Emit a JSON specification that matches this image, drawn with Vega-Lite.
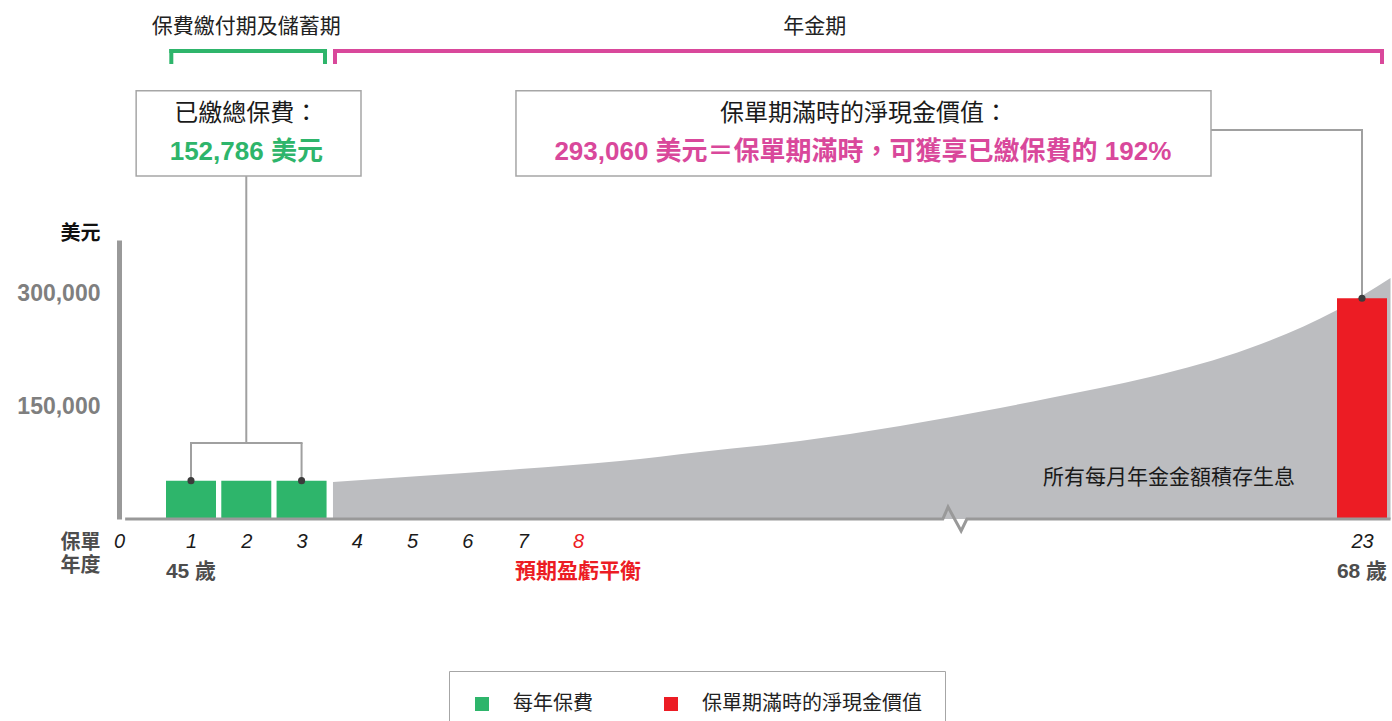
{
  "$schema": "https://vega.github.io/schema/vega-lite/v6.json",
  "width": 1273,
  "height": 279,
  "autosize": {"type": "none"},
  "padding": {"left": 119, "top": 240, "right": 0, "bottom": 202},
  "background": "white",
  "config": {
    "view": {"stroke": null},
    "font": "Liberation Sans, Noto Sans CJK TC",
    "axisX": {"labelFlush": false, "labelOverlap": false},
    "axisY": {"labelOverlap": false}
  },
  "datasets": {
    "bars": [
      {"year": 1, "value": 50929, "type": "每年保費"},
      {"year": 2, "value": 50929, "type": "每年保費"},
      {"year": 3, "value": 50928, "type": "每年保費"},
      {"year": 23, "value": 293060, "type": "保單期滿時的淨現金價值"}
    ],
    "curve": [
      {"year": 3.568, "value": 49115},
      {"year": 5.142, "value": 57080},
      {"year": 6.951, "value": 66372},
      {"year": 8.804, "value": 76991},
      {"year": 10.334, "value": 88938},
      {"year": 12.247, "value": 103540},
      {"year": 14.161, "value": 123451},
      {"year": 16.074, "value": 147345},
      {"year": 17.031, "value": 160619},
      {"year": 17.987, "value": 173893},
      {"year": 18.944, "value": 188495},
      {"year": 20.857, "value": 226991},
      {"year": 22.522, "value": 277433},
      {"year": 23.6, "value": 320000}
    ],
    "baseline": [
      {"year": 0, "value": 0},
      {"year": 14.98, "value": 0},
      {"year": 15.08, "value": 15900},
      {"year": 15.33, "value": -15900},
      {"year": 15.44, "value": 0},
      {"year": 23.6, "value": 0}
    ]
  },
  "layer": [
    {
      "data": {"name": "curve"},
      "mark": {"type": "area", "color": "#bcbdc0", "interpolate": "monotone"},
      "encoding": {
        "x": {
          "field": "year", "type": "quantitative",
          "scale": {"type": "linear", "domain": [0, 1, 8, 23, 24], "range": [0, 72, 459, 1243, 1295], "nice": false, "zero": false},
          "axis": {
            "values": [0, 1, 2, 3, 4, 5, 6, 7, 8, 23],
            "labelExpr": "format(datum.value, 'd')",
            "title": ["保單", "年度"], "titleAngle": 0, "titleX": -19, "titleY": 13,
            "titleAlign": "right", "titleBaseline": "top", "titleFontSize": 20, "titleFontWeight": "bold",
            "titleColor": "#4d4d4d", "titleFont": "Noto Sans CJK TC", "titleLineHeight": 23,
            "labelFont": "Liberation Sans", "labelFontSize": 20, "labelFontStyle": "italic",
            "labelColor": {"condition": {"test": "datum.value == 8", "value": "#ec1c24"}, "value": "#1a1a1a"},
            "labelOffset": {"condition": {"test": "datum.value == 0", "value": -6}, "value": 0},
            "labelPadding": 12, "labelFlush": false, "labelOverlap": false, "labelAlign": "center",
            "domain": false, "ticks": false, "grid": false
          }
        },
        "y": {
          "field": "value", "type": "quantitative",
          "scale": {"domain": [0, 370354], "nice": false, "zero": false},
          "axis": {
            "values": [150000, 300000],
            "labelExpr": "format(datum.value, ',')",
            "title": "美元", "titleAngle": 0, "titleX": -19, "titleY": -7, "titleAlign": "right",
            "titleBaseline": "middle", "titleFontSize": 20, "titleFontWeight": "bold", "titleColor": "#111111",
            "titleFont": "Noto Sans CJK TC",
            "labelFont": "Liberation Sans", "labelFontSize": 23, "labelFontWeight": "bold", "labelColor": "#7f7f7f",
            "labelPadding": 19, "ticks": false, "tickSize": 0,
            "domainColor": "#999999", "domainWidth": 5, "grid": false
          }
        },
        "y2": {"datum": 0}
      }
    },
    {
      "data": {"name": "bars"},
      "mark": {"type": "bar", "width": 50},
      "encoding": {
        "x": {"field": "year", "type": "quantitative"},
        "y": {"field": "value", "type": "quantitative", "stack": null},
        "color": {
          "field": "type", "type": "nominal",
          "scale": {"domain": ["每年保費", "保單期滿時的淨現金價值"], "range": ["#2eb56b", "#ec1c24"]},
          "legend": {
            "title": null, "orient": "none", "legendX": 330, "legendY": 431, "direction": "horizontal",
            "symbolType": "square", "symbolSize": 196, "symbolStrokeWidth": 0, "symbolOpacity": 1,
            "labelFontSize": 20, "labelFont": "Noto Sans CJK TC", "labelColor": "#222222",
            "labelOffset": 21, "columnPadding": 68, "padding": 23,
            "strokeColor": "#a6a6a6", "fillColor": "white", "labelLimit": 400
          }
        }
      }
    },
    {
      "data": {"name": "baseline"},
      "mark": {"type": "line", "color": "#999999", "strokeWidth": 3, "strokeJoin": "miter"},
      "encoding": {
        "x": {"field": "year", "type": "quantitative"},
        "y": {"field": "value", "type": "quantitative"}
      }
    },
    {
      "data": {"values": [{}]},
      "mark": {"type": "rule", "color": "#2eb56b", "strokeWidth": 4, "strokeCap": "square"},
      "encoding": {"x": {"datum": 0.701, "type": "quantitative"}, "x2": {"datum": 3.424}, "y": {"datum": 621237, "type": "quantitative"}}
    },
    {
      "data": {"values": [{}]},
      "mark": {"type": "rule", "color": "#2eb56b", "strokeWidth": 4, "strokeCap": "square"},
      "encoding": {"x": {"datum": 0.701, "type": "quantitative"}, "y": {"datum": 621237, "type": "quantitative"}, "y2": {"datum": 606636}}
    },
    {
      "data": {"values": [{}]},
      "mark": {"type": "rule", "color": "#2eb56b", "strokeWidth": 4, "strokeCap": "square"},
      "encoding": {"x": {"datum": 3.424, "type": "quantitative"}, "y": {"datum": 621237, "type": "quantitative"}, "y2": {"datum": 606636}}
    },
    {
      "data": {"values": [{}]},
      "mark": {"type": "rule", "color": "#d9489b", "strokeWidth": 4, "strokeCap": "square"},
      "encoding": {"x": {"datum": 3.605, "type": "quantitative"}, "x2": {"datum": 23.42}, "y": {"datum": 621237, "type": "quantitative"}}
    },
    {
      "data": {"values": [{}]},
      "mark": {"type": "rule", "color": "#d9489b", "strokeWidth": 4, "strokeCap": "square"},
      "encoding": {"x": {"datum": 3.605, "type": "quantitative"}, "y": {"datum": 621237, "type": "quantitative"}, "y2": {"datum": 606636}}
    },
    {
      "data": {"values": [{}]},
      "mark": {"type": "rule", "color": "#d9489b", "strokeWidth": 4, "strokeCap": "square"},
      "encoding": {"x": {"datum": 23.42, "type": "quantitative"}, "y": {"datum": 621237, "type": "quantitative"}, "y2": {"datum": 606636}}
    },
    {
      "data": {"values": [{}]},
      "mark": {"type": "rule", "color": "#a0a0a0", "strokeWidth": 2},
      "encoding": {"x": {"datum": 2, "type": "quantitative"}, "y": {"datum": 455309, "type": "quantitative"}, "y2": {"datum": 100885}}
    },
    {
      "data": {"values": [{}]},
      "mark": {"type": "rule", "color": "#a0a0a0", "strokeWidth": 2, "strokeCap": "square"},
      "encoding": {"x": {"datum": 1, "type": "quantitative"}, "x2": {"datum": 3}, "y": {"datum": 100885, "type": "quantitative"}}
    },
    {
      "data": {"values": [{}]},
      "mark": {"type": "rule", "color": "#a0a0a0", "strokeWidth": 2},
      "encoding": {"x": {"datum": 1, "type": "quantitative"}, "y": {"datum": 100885, "type": "quantitative"}, "y2": {"datum": 50929}}
    },
    {
      "data": {"values": [{}]},
      "mark": {"type": "rule", "color": "#a0a0a0", "strokeWidth": 2},
      "encoding": {"x": {"datum": 3, "type": "quantitative"}, "y": {"datum": 100885, "type": "quantitative"}, "y2": {"datum": 50929}}
    },
    {
      "data": {"values": [{}]},
      "mark": {"type": "rule", "color": "#a0a0a0", "strokeWidth": 2, "strokeCap": "square"},
      "encoding": {"x": {"datum": 20.111, "type": "quantitative"}, "x2": {"datum": 23}, "y": {"datum": 516370, "type": "quantitative"}}
    },
    {
      "data": {"values": [{}]},
      "mark": {"type": "rule", "color": "#a0a0a0", "strokeWidth": 2},
      "encoding": {"x": {"datum": 23, "type": "quantitative"}, "y": {"datum": 516370, "type": "quantitative"}, "y2": {"datum": 293060}}
    },
    {
      "data": {"name": "bars"},
      "transform": [{"filter": "datum.year != 2"}],
      "mark": {"type": "circle", "size": 50, "color": "#3c3c3c", "opacity": 1},
      "encoding": {
        "x": {"field": "year", "type": "quantitative"},
        "y": {"field": "value", "type": "quantitative"}
      }
    },
    {
      "data": {"values": [{}]},
      "mark": {"type": "rect", "fill": "white", "stroke": "#a6a6a6", "strokeWidth": 1.5},
      "encoding": {"x": {"datum": 0.167, "type": "quantitative"}, "x2": {"datum": 4.075}, "y": {"datum": 568540, "type": "quantitative"}, "y2": {"datum": 455309}}
    },
    {
      "data": {"values": [{}]},
      "mark": {"type": "rect", "fill": "white", "stroke": "#a6a6a6", "strokeWidth": 1.5},
      "encoding": {"x": {"datum": 6.878, "type": "quantitative"}, "x2": {"datum": 20.111}, "y": {"datum": 568540, "type": "quantitative"}, "y2": {"datum": 455309}}
    },
    {
      "data": {"values": [{}]},
      "mark": {"type": "text", "text": "保費繳付期及儲蓄期", "font": "Noto Sans CJK TC", "fontSize": 21, "color": "#222222", "align": "center", "baseline": "middle"},
      "encoding": {"x": {"datum": 2, "type": "quantitative"}, "y": {"datum": 652434, "type": "quantitative"}}
    },
    {
      "data": {"values": [{}]},
      "mark": {"type": "text", "text": "年金期", "font": "Noto Sans CJK TC", "fontSize": 21, "color": "#222222", "align": "center", "baseline": "middle"},
      "encoding": {"x": {"datum": 12.53, "type": "quantitative"}, "y": {"datum": 652434, "type": "quantitative"}}
    },
    {
      "data": {"values": [{}]},
      "mark": {"type": "text", "text": "已繳總保費：", "font": "Noto Sans CJK TC", "fontSize": 24, "color": "#1a1a1a", "align": "center", "baseline": "middle"},
      "encoding": {"x": {"datum": 2, "type": "quantitative"}, "y": {"datum": 537609, "type": "quantitative"}}
    },
    {
      "data": {"values": [{}]},
      "mark": {"type": "text", "text": "152,786 美元", "font": "Liberation Sans, Noto Sans CJK TC", "fontSize": 26, "fontWeight": "bold", "color": "#2eb56b", "align": "center", "baseline": "middle"},
      "encoding": {"x": {"datum": 2, "type": "quantitative"}, "y": {"datum": 487831, "type": "quantitative"}}
    },
    {
      "data": {"values": [{}]},
      "mark": {"type": "text", "text": "保單期滿時的淨現金價值：", "font": "Noto Sans CJK TC", "fontSize": 24, "color": "#1a1a1a", "align": "center", "baseline": "middle"},
      "encoding": {"x": {"datum": 13.47, "type": "quantitative"}, "y": {"datum": 537609, "type": "quantitative"}}
    },
    {
      "data": {"values": [{}]},
      "mark": {"type": "text", "text": "293,060 美元＝保單期滿時，可獲享已繳保費的 192%", "font": "Liberation Sans, Noto Sans CJK TC", "fontSize": 26, "fontWeight": "bold", "color": "#d9489b", "align": "center", "baseline": "middle"},
      "encoding": {"x": {"datum": 13.45, "type": "quantitative"}, "y": {"datum": 487831, "type": "quantitative"}}
    },
    {
      "data": {"values": [{}]},
      "mark": {"type": "text", "text": "所有每月年金金額積存生息", "font": "Noto Sans CJK TC", "fontSize": 21, "color": "#1a1a1a", "align": "center", "baseline": "middle"},
      "encoding": {"x": {"datum": 19.307, "type": "quantitative"}, "y": {"datum": 55088, "type": "quantitative"}}
    },
    {
      "data": {"values": [{}]},
      "mark": {"type": "text", "text": "45 歲", "font": "Liberation Sans, Noto Sans CJK TC", "fontSize": 21, "fontWeight": "bold", "color": "#4d4d4d", "align": "center", "baseline": "middle"},
      "encoding": {"x": {"datum": 1, "type": "quantitative"}, "y": {"datum": -71000, "type": "quantitative"}}
    },
    {
      "data": {"values": [{}]},
      "mark": {"type": "text", "text": "預期盈虧平衡", "font": "Noto Sans CJK TC", "fontSize": 21, "fontWeight": "bold", "color": "#ec1c24", "align": "center", "baseline": "middle"},
      "encoding": {"x": {"datum": 8, "type": "quantitative"}, "y": {"datum": -71000, "type": "quantitative"}}
    },
    {
      "data": {"values": [{}]},
      "mark": {"type": "text", "text": "68 歲", "font": "Liberation Sans, Noto Sans CJK TC", "fontSize": 21, "fontWeight": "bold", "color": "#4d4d4d", "align": "center", "baseline": "middle"},
      "encoding": {"x": {"datum": 23, "type": "quantitative"}, "y": {"datum": -71000, "type": "quantitative"}}
    }
  ]
}
